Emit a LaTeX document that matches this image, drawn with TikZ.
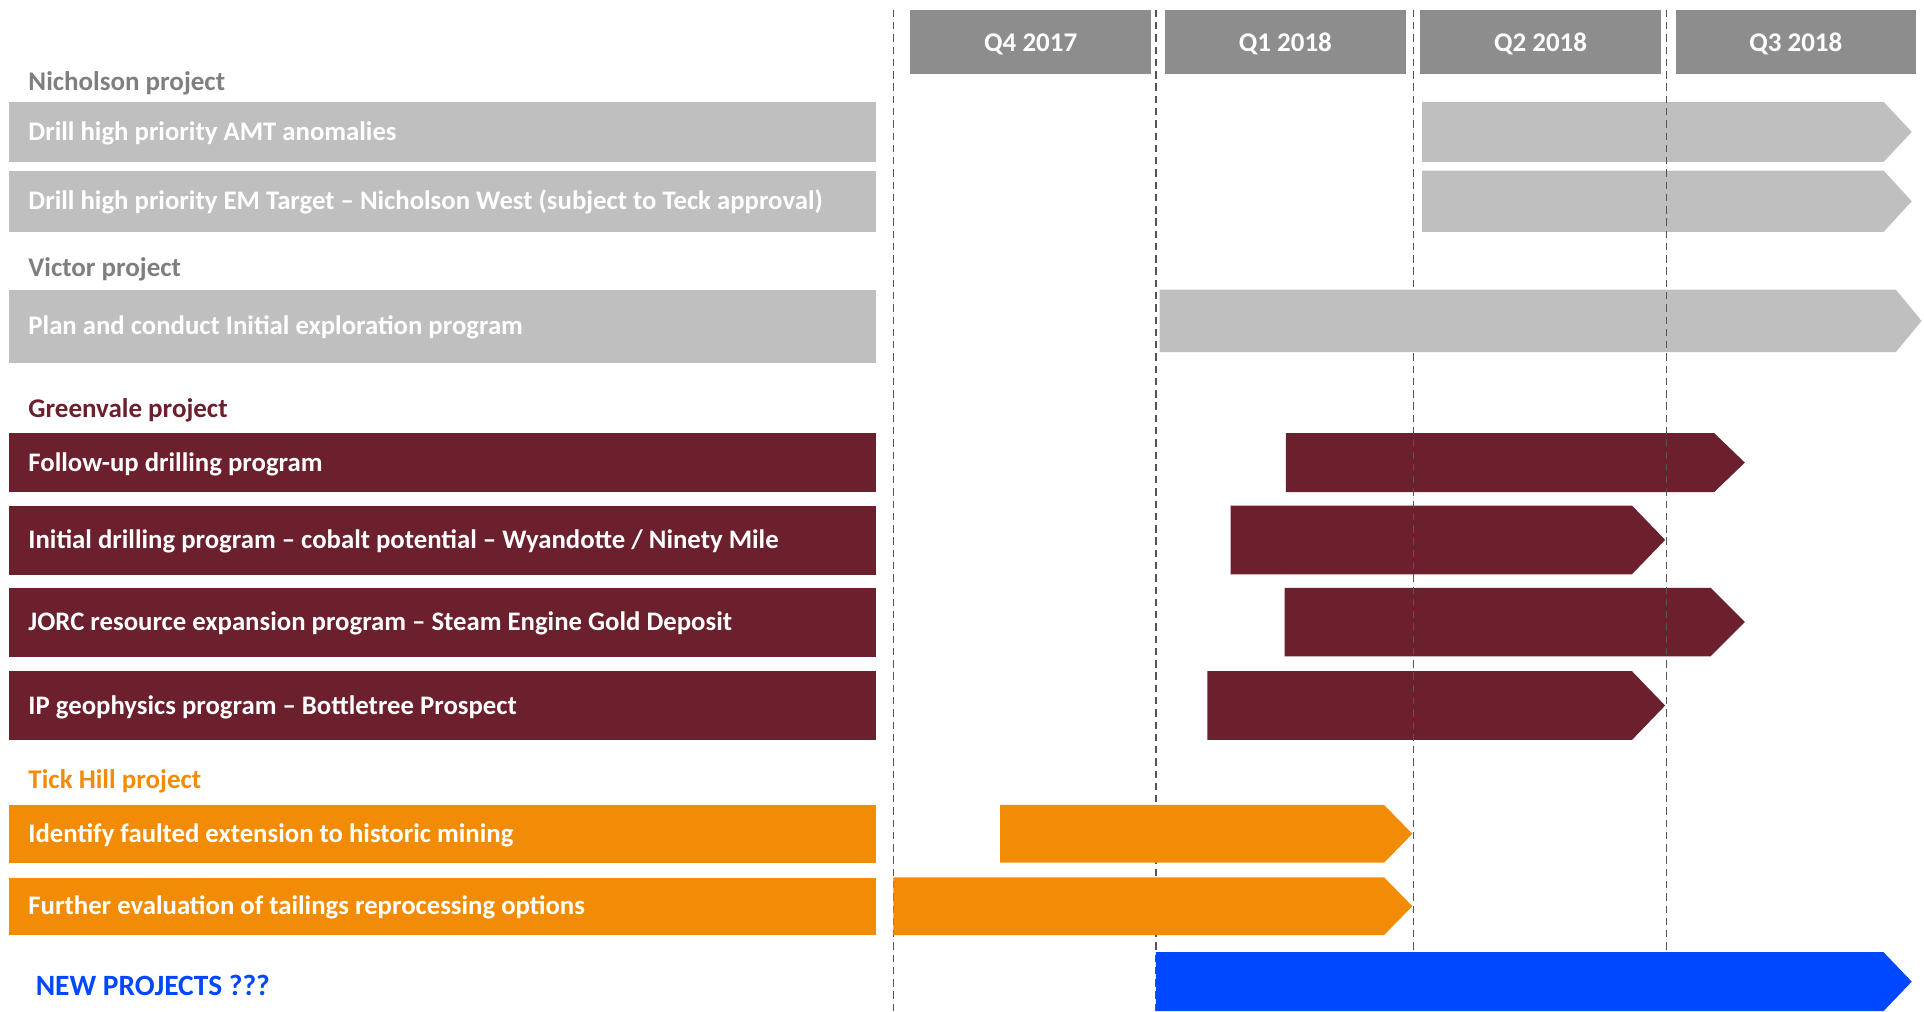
\documentclass[tikz,border=0pt]{standalone}
\usepackage{fontspec}
\setmainfont{Carlito}
\definecolor{hdrgray}{RGB}{141,141,141}
\definecolor{lgray}{RGB}{191,191,191}
\definecolor{lblgray}{RGB}{127,127,127}
\definecolor{maroon}{RGB}{108,31,44}
\definecolor{orng}{RGB}{242,140,6}
\definecolor{nblue}{RGB}{0,72,255}
\definecolor{dline}{RGB}{85,85,85}
\newcommand{\gtarrow}[6]{% x1, x2, tipstart, ytop, ybot, colour
  \fill[#6] (#1,#4) -- (#3,#4) -- (#2,{(#4+#5)/2}) -- (#3,#5) -- (#1,#5) -- cycle;}
\begin{document}
\begin{tikzpicture}[x=1pt,y=-1pt,
  txt/.style={font=\fontsize{21.8}{25}\selectfont\bfseries},
  bigtxt/.style={font=\fontsize{22}{25}\selectfont\bfseries},
  hdrbox/.style={bigtxt, fill=hdrgray, text=white, minimum width=196pt, minimum height=52pt, inner sep=0pt, text height=18pt, text depth=2pt},
  lbar/.style={txt, anchor=north west, text=white, text width=675pt, inner xsep=16pt, inner ysep=0pt, align=flush left, text height=17pt, text depth=3.5pt},
  plabel/.style={bigtxt, anchor=west, inner sep=0pt, yshift=-1.5pt},
  vline/.style={dline, line width=1.1pt, dash pattern=on 6pt off 4pt}
]
\useasboundingbox (0,0) rectangle (1568,824);
\fill[white] (0,0) rectangle (1568,824);

% quarter headers
\node[hdrbox] (q4) at (840,34) {Q4 2017};
\node[hdrbox] (q1) at (1047.5,34) {Q1 2018};
\node[hdrbox] (q2) at (1255.5,34) {Q2 2018};
\node[hdrbox] (q3) at (1463.5,34) {Q3 2018};

% project labels
\node[plabel, text=lblgray] (lnich) at (23,66) {Nicholson project};
\node[plabel, text=lblgray] (lvict) at (23,218) {Victor project};
\node[plabel, text=maroon] (lgreen) at (23,333) {Greenvale project};
\node[plabel, text=orng] (ltick) at (23,635) {Tick Hill project};
\node[plabel, yshift=1.5pt, text=nblue, font=\fontsize{24}{27}\selectfont\bfseries] (lnew) at (29,803) {NEW PROJECTS ???};

% left bars
\node[lbar, fill=lgray, minimum height=49pt] (b1) at (7,83) {Drill high priority AMT anomalies};
\node[lbar, fill=lgray, minimum height=50pt] (b2) at (7,139) {Drill high priority EM Target -- Nicholson West (subject to Teck approval)};
\node[lbar, fill=lgray, minimum height=60pt] (b3) at (7,236) {Plan and conduct Initial exploration program};
\node[lbar, fill=maroon, minimum height=48pt] (b4) at (7,353) {Follow-up drilling program};
\node[lbar, fill=maroon, minimum height=56pt] (b5) at (7,412) {Initial drilling program -- cobalt potential -- Wyandotte / Ninety Mile};
\node[lbar, fill=maroon, minimum height=56pt] (b6) at (7,479) {JORC resource expansion program -- Steam Engine Gold Deposit};
\node[lbar, fill=maroon, minimum height=56pt] (b7) at (7,547) {IP geophysics program -- Bottletree Prospect};
\node[lbar, fill=orng, minimum height=47pt] (b8) at (7,656) {Identify faulted extension to historic mining};
\node[lbar, fill=orng, minimum height=47pt] (b9) at (7,715) {Further evaluation of tailings reprocessing options};

% timeline arrows (below dashed lines)
\gtarrow{1159}{1558}{1535}{83}{132}{lgray}
\gtarrow{1159}{1558}{1535}{139}{189}{lgray}
\gtarrow{1048}{1422}{1397}{353}{401}{maroon}
\gtarrow{1003}{1357}{1330}{412}{468}{maroon}
\gtarrow{1047}{1422}{1394}{479}{535}{maroon}
\gtarrow{984}{1357}{1330}{547}{603}{maroon}

% dashed quarter boundaries
\draw[vline] (728,8) -- (728,824);
\draw[vline] (942,8) -- (942,824);
\draw[vline] (1152,8) -- (1152,824);

\gtarrow{945}{1566}{1545}{236}{287}{lgray}

\draw[vline] (1358,8) -- (1358,824);

% arrows above dashed lines
\gtarrow{815}{1151}{1128}{656}{703}{orng}
\gtarrow{728}{1151}{1128}{715}{762}{orng}
\gtarrow{942}{1558}{1535}{776}{824}{nblue}
\end{tikzpicture}
\end{document}
